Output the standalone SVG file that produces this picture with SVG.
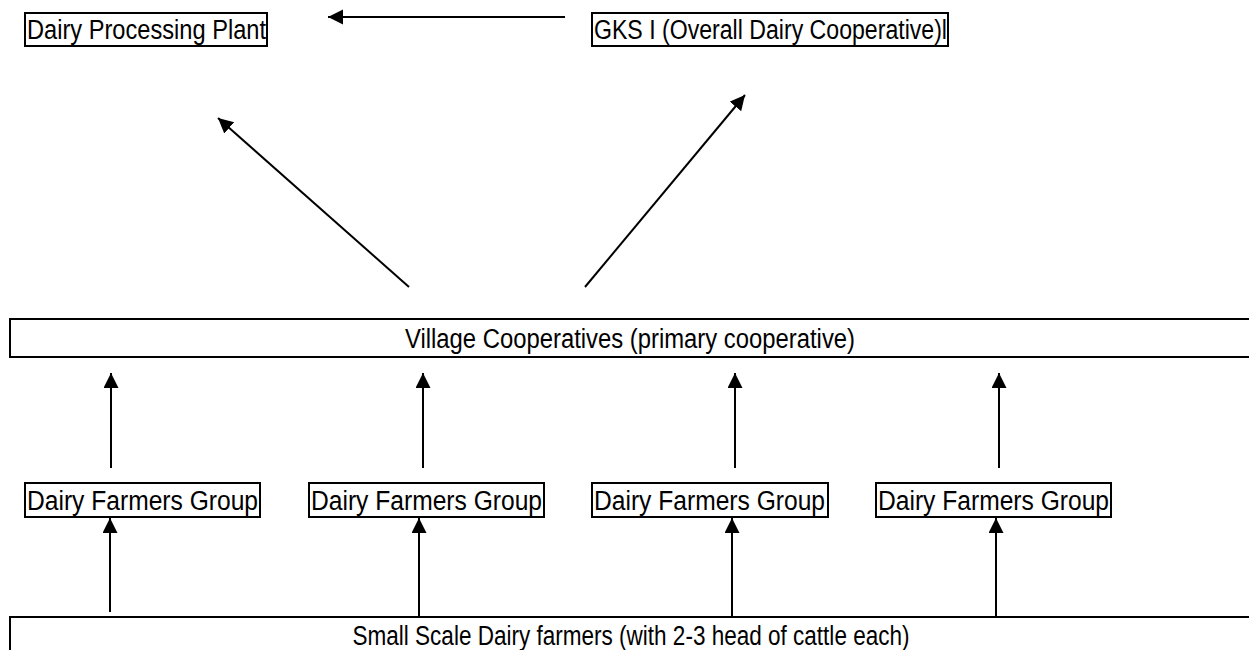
<svg xmlns="http://www.w3.org/2000/svg" width="1249" height="650" viewBox="0 0 1249 650">
<defs>
<marker id="ah" markerUnits="userSpaceOnUse" markerWidth="16" markerHeight="16" refX="15" refY="7.5" orient="auto">
<path d="M0,0 L15,7.5 L0,15 z" fill="#000"/>
</marker>
<style>
.box{fill:#fff;stroke:#000;stroke-width:2}
.t{font-family:"Liberation Sans",Arial,sans-serif;font-size:27px;fill:#000}
.c{text-anchor:middle}
.ln{stroke:#000;stroke-width:2;fill:none;marker-end:url(#ah)}
</style>
</defs>
<rect width="1249" height="650" fill="#fff"/>
<g id="plant">
<rect class="box" x="25" y="13" width="242" height="33"/>
<text class="t" x="27" y="39" textLength="239" lengthAdjust="spacingAndGlyphs">Dairy Processing Plant</text>
</g>
<g id="gks">
<rect class="box" x="592" y="13" width="356" height="33"/>
<text class="t" x="594" y="39" textLength="353" lengthAdjust="spacingAndGlyphs">GKS I (Overall Dairy Cooperative)l</text>
</g>
<g id="village">
<rect class="box" x="10" y="319" width="1250" height="38"/>
<text class="t c" x="630" y="348" textLength="450" lengthAdjust="spacingAndGlyphs">Village Cooperatives (primary cooperative)</text>
</g>
<g id="dfg1">
<rect class="box" x="25" y="483" width="235" height="34"/>
<text class="t" x="27" y="510" textLength="231" lengthAdjust="spacingAndGlyphs">Dairy Farmers Group</text>
</g>
<g id="dfg2">
<rect class="box" x="309" y="483" width="235" height="34"/>
<text class="t" x="311" y="510" textLength="231" lengthAdjust="spacingAndGlyphs">Dairy Farmers Group</text>
</g>
<g id="dfg3">
<rect class="box" x="592" y="483" width="236" height="34"/>
<text class="t" x="594" y="510" textLength="231" lengthAdjust="spacingAndGlyphs">Dairy Farmers Group</text>
</g>
<g id="dfg4">
<rect class="box" x="876" y="483" width="235" height="34"/>
<text class="t" x="878" y="510" textLength="231" lengthAdjust="spacingAndGlyphs">Dairy Farmers Group</text>
</g>
<g id="farmers">
<rect class="box" x="10" y="617" width="1250" height="40"/>
<text class="t c" x="631" y="645" textLength="557" lengthAdjust="spacingAndGlyphs">Small Scale Dairy farmers (with 2-3 head of cattle each)</text>
</g>
<g id="connectors">
<line class="ln" x1="565" y1="17" x2="328" y2="17"/>
<line class="ln" x1="409" y1="287" x2="218" y2="118"/>
<line class="ln" x1="585" y1="287" x2="745" y2="95"/>
<line class="ln" x1="111" y1="468" x2="111" y2="373"/>
<line class="ln" x1="423" y1="468" x2="423" y2="373"/>
<line class="ln" x1="735" y1="468" x2="735" y2="373"/>
<line class="ln" x1="999" y1="468" x2="999" y2="373"/>
<line class="ln" x1="110" y1="612" x2="110" y2="518"/>
<line class="ln" x1="419" y1="616" x2="419" y2="518"/>
<line class="ln" x1="732" y1="616" x2="732" y2="518"/>
<line class="ln" x1="996" y1="616" x2="996" y2="518"/>
</g>
</svg>
